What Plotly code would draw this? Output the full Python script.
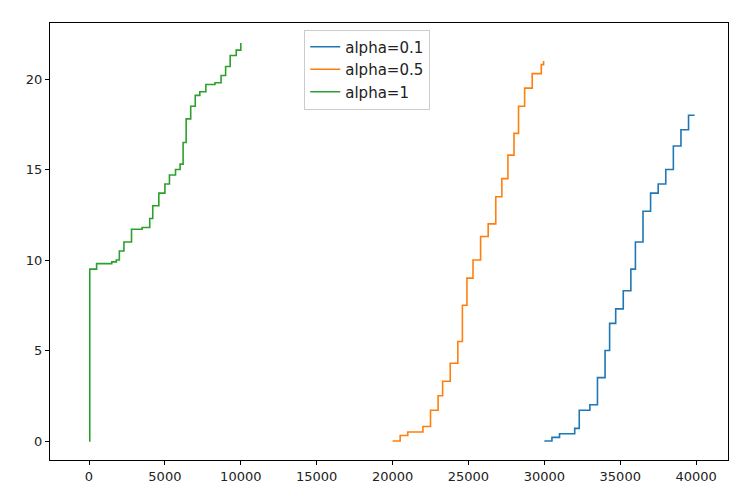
import plotly.graph_objects as go

# cumulative curves
green_x = [0, 50, 500, 1500, 1800, 2000, 2300, 2800, 3500, 4000, 4200, 4600, 5000, 5300,
           5700, 6000, 6200, 6400, 6700, 7000, 7300, 7700, 8300, 8700, 9000, 9300, 9700, 10000, 10000]
green_y = [0, 9.5, 9.8, 9.9, 10.0, 10.5, 11.0, 11.7, 11.8, 12.3, 13.0, 13.7, 14.2, 14.7,
           15.0, 15.3, 16.5, 17.8, 18.5, 19.1, 19.3, 19.7, 19.8, 20.2, 20.7, 21.3, 21.6, 21.7, 22.0]

orange_x = [20000, 20500, 21000, 22000, 22500, 23000, 23300, 23800, 24300, 24600, 24900, 25300,
            25800, 26300, 26800, 27200, 27600, 28000, 28300, 28700, 29200, 29800, 29950]
orange_y = [0, 0.3, 0.5, 0.8, 1.7, 2.5, 3.3, 4.3, 5.5, 7.5, 9.0, 10.0,
            11.3, 12.0, 13.5, 14.5, 15.8, 17.0, 18.5, 19.5, 20.3, 20.8, 21.0]

blue_x = [30000, 30500, 31000, 32000, 32300, 33000, 33500, 34000, 34300, 34700, 35200, 35700,
          36000, 36500, 37000, 37500, 38000, 38500, 39000, 39500, 39900]
blue_y = [0, 0.2, 0.4, 0.7, 1.7, 2.0, 3.5, 5.0, 6.5, 7.3, 8.3, 9.5,
          11.0, 12.7, 13.7, 14.2, 15.0, 16.3, 17.2, 18.0, 18.0]

x_ticks = list(range(0, 40001, 5000))

fig = go.Figure()
for name, xs, ys, col in [
    ("alpha=0.1", blue_x, blue_y, "#1f77b4"),
    ("alpha=0.5", orange_x, orange_y, "#ff7f0e"),
    ("alpha=1", green_x, green_y, "#2ca02c"),
]:
    fig.add_trace(go.Scatter(x=xs, y=ys, name=name, mode="lines", line_shape="hv",
                             line=dict(color=col, width=1.6)))

axis = dict(showgrid=False, zeroline=False, showline=True, linecolor="black", mirror=True,
            ticks="outside", ticklen=4, tickcolor="black")
fig.update_layout(
    width=738, height=500, plot_bgcolor="white", paper_bgcolor="white",
    margin=dict(l=42, r=18, t=15, b=48),
    font=dict(family="DejaVu Sans", size=13, color="#222"),
    xaxis=dict(axis, range=[-2570, 42100], tickvals=x_ticks,
               ticktext=[str(v) for v in x_ticks]),
    yaxis=dict(axis, range=[-1.05, 23.1], tickvals=[0, 5, 10, 15, 20]),
    legend=dict(x=0.375, y=0.985, xanchor="left", yanchor="top", bordercolor="#ccc",
                borderwidth=1, bgcolor="white", font=dict(size=15)),
)
fig.write_html("out.html")
